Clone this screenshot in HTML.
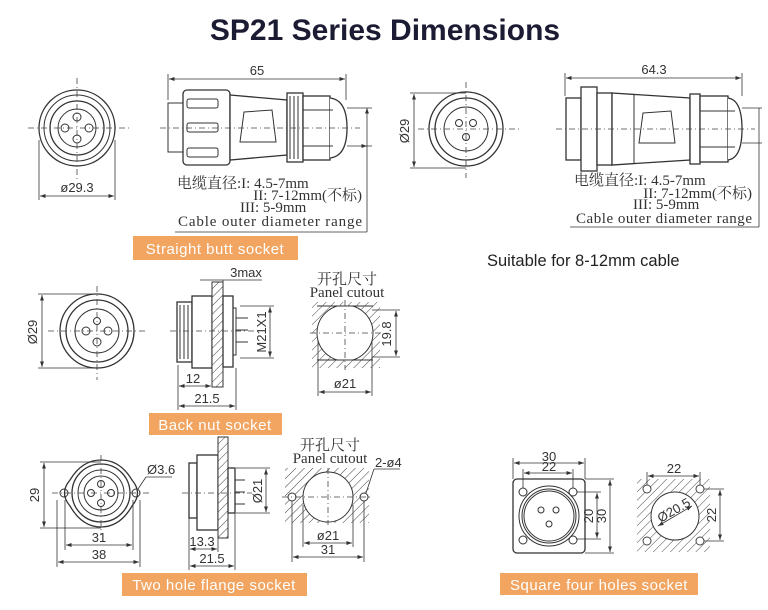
<!DOCTYPE html>
<html><head><meta charset="utf-8"><style>
html,body{margin:0;padding:0;background:#fff;}
svg{display:block}
.l{fill:none;stroke:#333;stroke-width:1}
.t{stroke:#333;stroke-width:1.3;fill:#fff}
.c{stroke:#444;stroke-width:0.8;stroke-dasharray:6 3 1 3;fill:none}
.d{stroke:#333;stroke-width:0.8;fill:none}
.s{font-family:"Liberation Serif","Noto Serif CJK SC",serif;font-size:15px;fill:#333}
.a{font-family:"Liberation Sans",sans-serif;font-size:13px;fill:#333}
.o{fill:#f2a461}
.ot{font-family:"Liberation Sans",sans-serif;font-size:15px;fill:#fff;letter-spacing:0.5px}
</style></head><body>
<svg width="768" height="610" viewBox="0 0 768 610" xmlns="http://www.w3.org/2000/svg">
<defs>
<pattern id="h" width="6" height="6" patternUnits="userSpaceOnUse" patternTransform="rotate(45)">
<rect width="6" height="6" fill="#fff"/><line x1="0" y1="0" x2="0" y2="6" stroke="#444" stroke-width="1"/></pattern>
<marker id="ar" markerWidth="7" markerHeight="5" refX="7" refY="2.5" orient="auto-start-reverse"><path d="M0,0 L7,2.5 L0,5z" fill="#333"/></marker>
</defs>
<text x="385" y="40" text-anchor="middle" font-family="Liberation Sans,sans-serif" font-weight="bold" font-size="30" fill="#1b1b33">SP21 Series Dimensions</text>

<!-- Straight butt front -->
<g>
<circle cx="77" cy="128" r="38" class="t"/><circle cx="77" cy="128" r="33" class="l"/><circle cx="77" cy="128" r="27" class="t"/><circle cx="77" cy="128" r="19" class="l"/>
<circle cx="65" cy="128" r="4" class="l"/><circle cx="89" cy="128" r="4" class="l"/><circle cx="77" cy="117" r="4" class="l"/><circle cx="77" cy="139" r="4" class="l"/>
<line x1="28" y1="128" x2="130" y2="128" class="c"/><line x1="77" y1="78" x2="77" y2="180" class="c"/>
<line x1="39" y1="140" x2="39" y2="200" class="d"/><line x1="115" y1="140" x2="115" y2="200" class="d"/>
<line x1="40" y1="196" x2="114" y2="196" class="d" marker-start="url(#ar)" marker-end="url(#ar)"/>
<text x="77" y="192" text-anchor="middle" class="a" font-size="15">ø29.3</text>
</g>
<!-- Straight butt side -->
<g>
<rect x="168" y="103" width="15" height="49" class="l"/>
<rect x="183" y="90" width="47" height="75" rx="4" class="t"/>
<rect x="187" y="99" width="31" height="9" rx="2" class="l"/><rect x="187" y="123" width="31" height="9" rx="2" class="l"/><rect x="187" y="148" width="31" height="9" rx="2" class="l"/>
<path d="M230,95 L287,100 L287,155 L230,160 Z" class="t"/>
<path d="M244,112 L272,110 L276,142 L240,142 Z" class="l"/>
<rect x="287" y="93" width="16" height="69" class="t"/>
<path d="M290,96 v63 M294,96 v63 M298,96 v63" class="l"/>
<rect x="303" y="96" width="27" height="64" class="t"/>
<path d="M330,98 Q347,100 347,128 Q347,156 330,158" class="t"/>
<line x1="303" y1="110" x2="333" y2="110" class="l"/><line x1="303" y1="146" x2="333" y2="146" class="l"/>
<line x1="347" y1="108" x2="372" y2="108" class="d"/><line x1="347" y1="146" x2="372" y2="146" class="d"/>
<line x1="367" y1="108" x2="367" y2="232" class="d" marker-start="url(#ar)"/><line x1="367" y1="146" x2="367" y2="146" class="d" marker-end="url(#ar)"/>
<line x1="175" y1="232" x2="367" y2="232" class="d"/>
<line x1="160" y1="128" x2="360" y2="128" class="c"/>
<line x1="168" y1="74" x2="168" y2="100" class="d"/><line x1="346" y1="74" x2="346" y2="100" class="d"/>
<line x1="169" y1="79" x2="345" y2="79" class="d" marker-start="url(#ar)" marker-end="url(#ar)"/>
<text x="257" y="75" text-anchor="middle" class="a" font-size="15">65</text>
<text x="177" y="188" class="s">电缆直径:I: 4.5-7mm</text>
<text x="362" y="200" text-anchor="end" class="s">II: 7-12mm(不标)</text>
<text x="240" y="212" class="s">III: 5-9mm</text>
<text x="178" y="226" class="s" textLength="184">Cable outer  diameter range</text>
</g>
<rect x="133" y="236" width="165" height="24" class="o"/>
<text x="215" y="254" text-anchor="middle" class="ot">Straight butt socket</text>

<!-- top right front -->
<g>
<circle cx="466" cy="129" r="37" class="t"/><circle cx="466" cy="129" r="31" class="t" stroke-width="2"/><circle cx="466" cy="129" r="22" class="l"/>
<circle cx="459" cy="123" r="3.5" class="l"/><circle cx="473" cy="123" r="3.5" class="l"/><circle cx="466" cy="137" r="3.5" class="l"/>
<line x1="418" y1="129" x2="520" y2="129" class="c"/><line x1="466" y1="82" x2="466" y2="178" class="c"/>
<line x1="410" y1="93" x2="466" y2="93" class="d"/><line x1="410" y1="168" x2="466" y2="168" class="d"/>
<line x1="414" y1="94" x2="414" y2="167" class="d" marker-start="url(#ar)" marker-end="url(#ar)"/>
<text x="409" y="131" text-anchor="middle" class="a" font-size="14" transform="rotate(-90 409 131)">Ø29</text>
</g>
<g>
<rect x="566" y="98" width="15" height="62" class="t"/>
<rect x="581" y="87" width="16" height="84" class="t"/>
<rect x="597" y="93" width="15" height="72" class="t"/>
<path d="M612,93 L690,98 L690,160 L612,165 Z" class="t"/>
<line x1="634" y1="94" x2="634" y2="164" class="l"/>
<path d="M643,113 L671,111 L675,143 L639,143 Z" class="l"/>
<rect x="690" y="94" width="10" height="70" class="t"/>
<rect x="700" y="96" width="28" height="66" class="t"/>
<path d="M728,98 Q742,100 742,129 Q742,158 728,160" class="t"/>
<line x1="700" y1="111" x2="735" y2="111" class="l"/><line x1="700" y1="147" x2="735" y2="147" class="l"/>
<line x1="742" y1="108" x2="762" y2="108" class="d"/><line x1="742" y1="143" x2="762" y2="143" class="d"/>
<line x1="759" y1="108" x2="759" y2="227" class="d"/>
<line x1="570" y1="227" x2="759" y2="227" class="d"/>
<line x1="556" y1="129" x2="755" y2="129" class="c"/>
<line x1="565" y1="73" x2="565" y2="96" class="d"/><line x1="742" y1="73" x2="742" y2="96" class="d"/>
<line x1="566" y1="78" x2="741" y2="78" class="d" marker-start="url(#ar)" marker-end="url(#ar)"/>
<text x="654" y="74" text-anchor="middle" class="a" font-size="15">64.3</text>
<text x="574" y="185" class="s">电缆直径:I: 4.5-7mm</text>
<text x="752" y="198" text-anchor="end" class="s">II: 7-12mm(不标)</text>
<text x="633" y="209" class="s">III: 5-9mm</text>
<text x="576" y="223" class="s" textLength="176">Cable outer  diameter range</text>
</g>
<text x="487" y="266" font-family="Liberation Sans,sans-serif" font-size="16.5" fill="#222">Suitable for 8-12mm cable</text>

<!-- Back nut -->
<g>
<circle cx="97" cy="331" r="37" class="t"/><circle cx="97" cy="331" r="31" class="t" stroke-width="2"/><circle cx="97" cy="331" r="22" class="l"/>
<circle cx="86" cy="331" r="4" class="l"/><circle cx="108" cy="331" r="4" class="l"/><circle cx="97" cy="321" r="3.5" class="l"/><circle cx="97" cy="342" r="4" class="l"/>
<line x1="48" y1="331" x2="145" y2="331" class="c"/><line x1="97" y1="286" x2="97" y2="380" class="c"/>
<line x1="38" y1="294" x2="97" y2="294" class="d"/><line x1="38" y1="368" x2="97" y2="368" class="d"/>
<line x1="42" y1="295" x2="42" y2="367" class="d" marker-start="url(#ar)" marker-end="url(#ar)"/>
<text x="37" y="332" text-anchor="middle" class="a" font-size="14" transform="rotate(-90 37 332)">Ø29</text>
</g>
<g>
<rect x="177" y="302" width="15" height="60" class="t"/>
<path d="M180,305 v54 M184,305 v54 M188,305 v54" class="l"/>
<rect x="192" y="296" width="20" height="72" class="t"/>
<rect x="212" y="282" width="11" height="105" fill="url(#h)" stroke="#333"/>
<rect x="223" y="296" width="10" height="71" class="t"/>
<path d="M233,308 h3 v47 h-3 M236,318 h12 M236,330 h12 M236,342 h12" class="l"/>
<line x1="170" y1="331" x2="255" y2="331" class="c"/>
<line x1="240" y1="306" x2="274" y2="306" class="d"/><line x1="240" y1="358" x2="274" y2="358" class="d"/>
<line x1="270" y1="307" x2="270" y2="357" class="d" marker-start="url(#ar)" marker-end="url(#ar)"/>
<text x="266" y="332" text-anchor="middle" class="a" font-size="13" transform="rotate(-90 266 332)">M21X1</text>
<line x1="178" y1="365" x2="178" y2="410" class="d"/><line x1="236" y1="368" x2="236" y2="410" class="d"/>
<line x1="179" y1="386" x2="211" y2="386" class="d" marker-start="url(#ar)" marker-end="url(#ar)"/>
<line x1="179" y1="406" x2="235" y2="406" class="d" marker-start="url(#ar)" marker-end="url(#ar)"/>
<text x="193" y="383" text-anchor="middle" class="a" font-size="14">12</text>
<text x="207" y="403" text-anchor="middle" class="a" font-size="14">21.5</text>
<line x1="200" y1="280" x2="262" y2="280" class="d"/><line x1="223" y1="280" x2="223" y2="282" class="d"/>
<text x="246" y="277" text-anchor="middle" class="a" font-size="12">3max</text>
</g>
<g>
<clipPath id="cp1"><rect x="312" y="306" width="68" height="54"/></clipPath>
<rect x="312" y="302" width="68" height="66" fill="url(#h)"/>
<circle cx="345" cy="333" r="28" fill="#fff" stroke="#333" clip-path="url(#cp1)"/>
<line x1="317" y1="306" x2="373" y2="306" class="l"/><line x1="317" y1="360" x2="373" y2="360" class="l"/>
<line x1="310" y1="333" x2="382" y2="333" class="c"/><line x1="345" y1="300" x2="345" y2="370" class="c"/>
<line x1="372" y1="310" x2="400" y2="310" class="d"/><line x1="372" y1="357" x2="400" y2="357" class="d"/>
<line x1="396" y1="311" x2="396" y2="356" class="d" marker-start="url(#ar)" marker-end="url(#ar)"/>
<text x="391" y="334" text-anchor="middle" class="a" font-size="13" transform="rotate(-90 391 334)">19.8</text>
<line x1="318" y1="340" x2="318" y2="396" class="d"/><line x1="372" y1="340" x2="372" y2="396" class="d"/>
<line x1="319" y1="392" x2="371" y2="392" class="d" marker-start="url(#ar)" marker-end="url(#ar)"/>
<text x="345" y="388" text-anchor="middle" class="a" font-size="13">ø21</text>
<text x="347" y="284" text-anchor="middle" class="s" font-size="12">开孔尺寸</text>
<text x="347" y="297" text-anchor="middle" class="s" font-size="13">Panel cutout</text>
</g>
<rect x="149" y="413" width="133" height="22" class="o"/>
<text x="215" y="430" text-anchor="middle" class="ot">Back nut socket</text>

<!-- Two hole flange -->
<g>
<path d="M101,460 Q120,460 132,480 Q143,493 132,506 Q120,527 101,527 Q82,527 70,506 Q59,493 70,480 Q82,460 101,460 Z" class="t"/>
<circle cx="101" cy="493" r="29" class="t" stroke-width="1.8"/><circle cx="101" cy="493" r="23" class="l"/><circle cx="101" cy="493" r="17" class="l"/>
<circle cx="64" cy="493" r="4" class="l"/><circle cx="136" cy="493" r="4" class="l"/>
<circle cx="91" cy="493" r="3.5" class="l"/><circle cx="111" cy="493" r="3.5" class="l"/><circle cx="101" cy="484" r="3.5" class="l"/><circle cx="101" cy="503" r="3.5" class="l"/>
<line x1="52" y1="493" x2="150" y2="493" class="c"/><line x1="101" y1="455" x2="101" y2="535" class="c"/>
<line x1="40" y1="462" x2="101" y2="462" class="d"/><line x1="40" y1="528" x2="101" y2="528" class="d"/>
<line x1="44" y1="463" x2="44" y2="527" class="d" marker-start="url(#ar)" marker-end="url(#ar)"/>
<text x="39" y="495" text-anchor="middle" class="a" font-size="14" transform="rotate(-90 39 495)">29</text>
<line x1="65" y1="500" x2="65" y2="550" class="d"/><line x1="133" y1="500" x2="133" y2="550" class="d"/>
<line x1="57" y1="500" x2="57" y2="567" class="d"/><line x1="140" y1="500" x2="140" y2="567" class="d"/>
<line x1="66" y1="545" x2="132" y2="545" class="d" marker-start="url(#ar)" marker-end="url(#ar)"/>
<line x1="58" y1="562" x2="139" y2="562" class="d" marker-start="url(#ar)" marker-end="url(#ar)"/>
<text x="99" y="542" text-anchor="middle" class="a" font-size="14">31</text>
<text x="99" y="559" text-anchor="middle" class="a" font-size="14">38</text>
<line x1="138" y1="489" x2="146" y2="477" class="d"/><line x1="146" y1="477" x2="172" y2="477" class="d"/>
<text x="147" y="474" class="a" font-size="13">Ø3.6</text>
</g>
<g>
<rect x="189" y="463" width="8" height="55" class="t"/>
<rect x="197" y="455" width="21" height="75" class="t"/>
<rect x="218" y="437" width="10" height="101" fill="url(#h)" stroke="#333"/>
<rect x="228" y="468" width="7" height="45" class="t"/>
<path d="M235,480 h10 M235,492 h10 M235,504 h10" class="l"/>
<line x1="182" y1="493" x2="252" y2="493" class="c"/>
<line x1="236" y1="468" x2="270" y2="468" class="d"/><line x1="236" y1="513" x2="270" y2="513" class="d"/>
<line x1="266" y1="469" x2="266" y2="512" class="d" marker-start="url(#ar)" marker-end="url(#ar)"/>
<text x="262" y="491" text-anchor="middle" class="a" font-size="13" transform="rotate(-90 262 491)">Ø21</text>
<line x1="189" y1="518" x2="189" y2="570" class="d"/><line x1="218" y1="538" x2="218" y2="552" class="d"/><line x1="235" y1="513" x2="235" y2="570" class="d"/>
<line x1="190" y1="549" x2="217" y2="549" class="d" marker-start="url(#ar)" marker-end="url(#ar)"/>
<line x1="190" y1="566" x2="234" y2="566" class="d" marker-start="url(#ar)" marker-end="url(#ar)"/>
<text x="202" y="546" text-anchor="middle" class="a" font-size="13">13.3</text>
<text x="212" y="563" text-anchor="middle" class="a" font-size="13">21.5</text>
</g>
<g>
<rect x="285" y="468" width="84" height="55" fill="url(#h)"/>
<circle cx="328" cy="497" r="25" fill="#fff" stroke="#333"/>
<circle cx="292" cy="497" r="4" fill="#fff" stroke="#333"/><circle cx="364" cy="497" r="4" fill="#fff" stroke="#333"/>
<line x1="282" y1="497" x2="372" y2="497" class="c"/><line x1="328" y1="468" x2="328" y2="525" class="c"/>
<line x1="303" y1="505" x2="303" y2="547" class="d"/><line x1="353" y1="505" x2="353" y2="547" class="d"/>
<line x1="292" y1="501" x2="292" y2="562" class="d"/><line x1="364" y1="501" x2="364" y2="562" class="d"/>
<line x1="304" y1="543" x2="352" y2="543" class="d" marker-start="url(#ar)" marker-end="url(#ar)"/>
<line x1="293" y1="557" x2="363" y2="557" class="d" marker-start="url(#ar)" marker-end="url(#ar)"/>
<text x="328" y="540" text-anchor="middle" class="a" font-size="13">ø21</text>
<text x="328" y="554" text-anchor="middle" class="a" font-size="13">31</text>
<line x1="366" y1="493" x2="374" y2="469" class="d"/><line x1="374" y1="469" x2="400" y2="469" class="d"/>
<text x="375" y="467" class="a" font-size="11">2-ø4</text>
<text x="330" y="450" text-anchor="middle" class="s" font-size="12">开孔尺寸</text>
<text x="330" y="463" text-anchor="middle" class="s" font-size="13">Panel cutout</text>
</g>
<rect x="122" y="573" width="185" height="23" class="o"/>
<text x="214" y="590" text-anchor="middle" class="ot">Two hole flange socket</text>

<!-- Square four holes -->
<g>
<rect x="513" y="479" width="72" height="74" rx="4" class="t"/>
<circle cx="523" cy="492" r="4" class="l"/><circle cx="573" cy="492" r="4" class="l"/><circle cx="523" cy="540" r="4" class="l"/><circle cx="573" cy="540" r="4" class="l"/>
<circle cx="549" cy="516" r="30" class="l"/><circle cx="549" cy="516" r="27" class="l"/><circle cx="549" cy="516" r="25" class="l"/>
<circle cx="541" cy="510" r="3" class="l"/><circle cx="556" cy="510" r="3" class="l"/><circle cx="549" cy="524" r="3" class="l"/>
<line x1="513" y1="458" x2="513" y2="479" class="d"/><line x1="585" y1="458" x2="585" y2="479" class="d"/>
<line x1="523" y1="469" x2="523" y2="488" class="d"/><line x1="573" y1="469" x2="573" y2="488" class="d"/>
<line x1="514" y1="463" x2="584" y2="463" class="d" marker-start="url(#ar)" marker-end="url(#ar)"/>
<line x1="524" y1="473" x2="572" y2="473" class="d" marker-start="url(#ar)" marker-end="url(#ar)"/>
<text x="549" y="461" text-anchor="middle" class="a" font-size="10">30</text>
<text x="549" y="471" text-anchor="middle" class="a" font-size="10">22</text>
<line x1="577" y1="492" x2="601" y2="492" class="d"/><line x1="577" y1="539" x2="601" y2="539" class="d"/>
<line x1="585" y1="479" x2="614" y2="479" class="d"/><line x1="585" y1="553" x2="614" y2="553" class="d"/>
<line x1="597" y1="493" x2="597" y2="538" class="d" marker-start="url(#ar)" marker-end="url(#ar)"/>
<line x1="610" y1="480" x2="610" y2="552" class="d" marker-start="url(#ar)" marker-end="url(#ar)"/>
<text x="593" y="516" text-anchor="middle" class="a" font-size="10" transform="rotate(-90 593 516)">20</text>
<text x="606" y="516" text-anchor="middle" class="a" font-size="10" transform="rotate(-90 606 516)">30</text>
</g>
<g>
<rect x="637" y="479" width="73" height="73" fill="url(#h)"/>
<circle cx="675" cy="516" r="24" fill="#fff" stroke="#333"/>
<circle cx="647" cy="489" r="4" fill="#fff" stroke="#444"/><circle cx="700" cy="489" r="4" fill="#fff" stroke="#444"/><circle cx="647" cy="541" r="4" fill="#fff" stroke="#444"/><circle cx="700" cy="541" r="4" fill="#fff" stroke="#444"/>
<line x1="658" y1="526" x2="692" y2="506" class="d" marker-start="url(#ar)" marker-end="url(#ar)"/>
<text x="676" y="514" text-anchor="middle" class="a" font-size="10" transform="rotate(-30 676 514)">Ø20.5</text>
<line x1="647" y1="472" x2="647" y2="485" class="d"/><line x1="700" y1="472" x2="700" y2="485" class="d"/>
<line x1="648" y1="476" x2="699" y2="476" class="d" marker-start="url(#ar)" marker-end="url(#ar)"/>
<text x="674" y="473" text-anchor="middle" class="a" font-size="10">22</text>
<line x1="704" y1="489" x2="724" y2="489" class="d"/><line x1="704" y1="541" x2="724" y2="541" class="d"/>
<line x1="720" y1="490" x2="720" y2="540" class="d" marker-start="url(#ar)" marker-end="url(#ar)"/>
<text x="716" y="515" text-anchor="middle" class="a" font-size="10" transform="rotate(-90 716 515)">22</text>
</g>
<rect x="500" y="573" width="198" height="22" class="o"/>
<text x="599" y="590" text-anchor="middle" class="ot">Square four holes socket</text>
</svg>
</body></html>
